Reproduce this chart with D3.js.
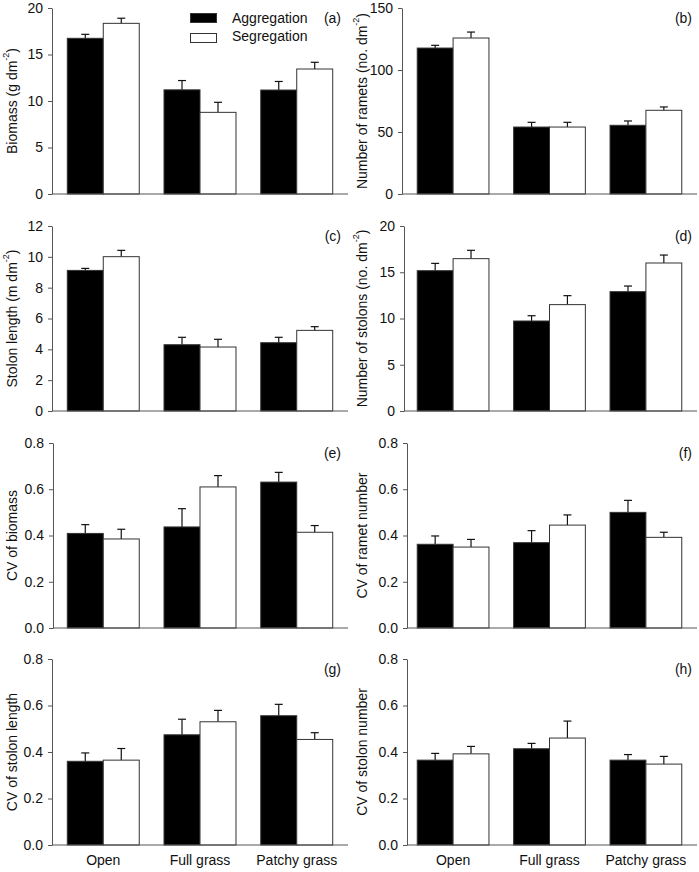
<!DOCTYPE html>
<html><head><meta charset="utf-8">
<script src="https://cdn.jsdelivr.net/npm/d3@7"></script>
<style>body{margin:0;background:#fff}svg{display:block;font-family:Arial,"Liberation Sans",Helvetica,sans-serif}</style>
</head><body><svg id="c" width="699" height="872"></svg>
<script>
const categories = ["Open", "Full grass", "Patchy grass"];
const seriesNames = ["Aggregation", "Segregation"];
const panelLabels = ["(a)", "(b)", "(c)", "(d)", "(e)", "(f)", "(g)", "(h)"];
const yTitles = [
  ["Biomass (g dm", "-2", ")"],
  ["Number of ramets (no. dm", "-2", ")"],
  ["Stolon length (m dm", "-2", ")"],
  ["Number of stolons (no. dm", "-2", ")"],
  ["CV of biomass"],
  ["CV of ramet number"],
  ["CV of stolon length"],
  ["CV of stolon number"]
];
const yMax = [20, 150, 12, 20, 0.8, 0.8, 0.8, 0.8];
const yTickValues = [
  [0, 5, 10, 15, 20],
  [0, 50, 100, 150],
  [0, 2, 4, 6, 8, 10, 12],
  [0, 5, 10, 15, 20],
  [0, 0.2, 0.4, 0.6, 0.8],
  [0, 0.2, 0.4, 0.6, 0.8],
  [0, 0.2, 0.4, 0.6, 0.8],
  [0, 0.2, 0.4, 0.6, 0.8]
];
const yTickFormats = ["d", "d", "d", "d", ".1f", ".1f", ".1f", ".1f"];
// means: [Open, Full grass, Patchy grass]
const aggMean = [
  [16.74, 11.2, 11.18],
  [117.7, 54.0, 55.4],
  [9.12, 4.30, 4.43],
  [15.17, 9.73, 12.9],
  [0.409, 0.437, 0.631],
  [0.362, 0.369, 0.500],
  [0.360, 0.474, 0.556],
  [0.365, 0.414, 0.365]
];
const aggSE = [
  [0.43, 1.0, 0.92],
  [2.2, 3.8, 3.5],
  [0.13, 0.48, 0.35],
  [0.79, 0.57, 0.61],
  [0.038, 0.079, 0.042],
  [0.036, 0.052, 0.052],
  [0.036, 0.067, 0.049],
  [0.029, 0.023, 0.024]
];
const segMean = [
  [18.35, 8.78, 13.44],
  [125.8, 54.0, 67.5],
  [10.01, 4.15, 5.23],
  [16.47, 11.5, 16.0],
  [0.385, 0.610, 0.414],
  [0.350, 0.445, 0.392],
  [0.365, 0.530, 0.454],
  [0.392, 0.460, 0.348]
];
const segSE = [
  [0.55, 1.08, 0.72],
  [4.8, 3.8, 2.7],
  [0.41, 0.50, 0.24],
  [0.90, 0.97, 0.86],
  [0.042, 0.049, 0.029],
  [0.033, 0.044, 0.022],
  [0.050, 0.049, 0.029],
  [0.032, 0.073, 0.033]
];

// layout
const colRange = [[52, 348], [402, 697]];
const axisX = [52, 402, 52, 404, 53, 407, 52, 407];
const rows = [[8, 194], [226, 411], [443, 628], [659, 845]];
const fills = ["#000", "#fff"];

const svg = d3.select("#c");
const FS = 14;

for (let p = 0; p < 8; p++) {
  const col = p % 2, row = Math.floor(p / 2);
  const [x0, x1] = colRange[col];
  const [top, bottom] = rows[row];
  const ax = axisX[p];
  const g = svg.append("g");

  const x = d3.scaleBand().domain(categories).range([x0, x1])
    .paddingInner(0.256).paddingOuter(0.158);
  const xs = d3.scaleBand().domain(seriesNames).range([0, x.bandwidth()]);
  const y = d3.scaleLinear().domain([0, yMax[p]]).range([bottom, top]);

  const data = [];
  categories.forEach((c, i) => {
    data.push({c, s: seriesNames[0], v: aggMean[p][i], e: aggSE[p][i]});
    data.push({c, s: seriesNames[1], v: segMean[p][i], e: segSE[p][i]});
  });

  // error bars (upper)
  const eb = g.append("g").attr("stroke", "#111").attr("stroke-width", 1.2);
  data.forEach(d => {
    const cx = x(d.c) + xs(d.s) + xs.bandwidth() / 2;
    eb.append("line").attr("x1", cx).attr("x2", cx)
      .attr("y1", y(d.v)).attr("y2", y(d.v + d.e));
    eb.append("line").attr("x1", cx - 4).attr("x2", cx + 4)
      .attr("y1", y(d.v + d.e)).attr("y2", y(d.v + d.e));
  });

  // bars
  g.append("g").selectAll("rect").data(data).join("rect")
    .attr("x", d => x(d.c) + xs(d.s))
    .attr("width", xs.bandwidth())
    .attr("y", d => y(d.v))
    .attr("height", d => y(0) - y(d.v))
    .attr("fill", d => fills[seriesNames.indexOf(d.s)])
    .attr("stroke", "#333").attr("stroke-width", 1);

  // y axis
  const yAxis = g.append("g").attr("transform", `translate(${ax},0)`)
    .call(d3.axisLeft(y).tickValues(yTickValues[p]).tickFormat(d3.format(yTickFormats[p]))
      .tickSizeInner(4).tickSizeOuter(0).tickPadding(5));
  yAxis.select(".domain").attr("stroke", "#555");
  yAxis.selectAll(".tick line").attr("stroke", "#555");
  yAxis.selectAll("text").attr("font-size", FS).attr("fill", "#111")
    .attr("font-family", "Arial, 'Liberation Sans', sans-serif");

  // x axis line
  const xAxis = g.append("g").attr("transform", `translate(0,${bottom})`)
    .call(d3.axisBottom(x).tickSize(0).tickPadding(10));
  xAxis.select(".domain").attr("stroke", "#555").attr("d", `M${ax},0H${x1}`);
  if (row === 3) {
    xAxis.selectAll("text").attr("font-size", FS).attr("fill", "#111")
      .attr("font-family", "Arial, 'Liberation Sans', sans-serif");
  } else {
    xAxis.selectAll("text").remove();
  }

  // y title
  const tx = col === 0 ? 12 : 362;
  const ty = (top + bottom) / 2;
  const t = g.append("text").attr("transform", `translate(${tx},${ty}) rotate(-90)`)
    .attr("text-anchor", "middle").attr("dominant-baseline", "central")
    .attr("font-size", FS).attr("fill", "#111");
  const parts = yTitles[p];
  t.append("tspan").text(parts[0]);
  if (parts.length > 1) {
    t.append("tspan").attr("font-size", 9).attr("dy", -6).text(parts[1]);
    t.append("tspan").attr("dy", 6).text(parts[2]);
  }

  // panel label
  g.append("text").attr("x", col === 0 ? 341 : 692).attr("y", top + 15)
    .attr("text-anchor", "end").attr("font-size", FS).attr("fill", "#111")
    .text(panelLabels[p]);

  // legend in panel (a)
  if (p === 0) {
    const lg = g.append("g");
    seriesNames.forEach((s, i) => {
      lg.append("rect").attr("x", 190.5).attr("y", 13.5 + i * 20).attr("width", 26).attr("height", 9)
        .attr("fill", fills[i]).attr("stroke", "#333");
      lg.append("text").attr("x", 232).attr("y", 23 + i * 18).attr("font-size", FS)
        .attr("fill", "#111").text(s);
    });
  }
}
</script></body></html>
